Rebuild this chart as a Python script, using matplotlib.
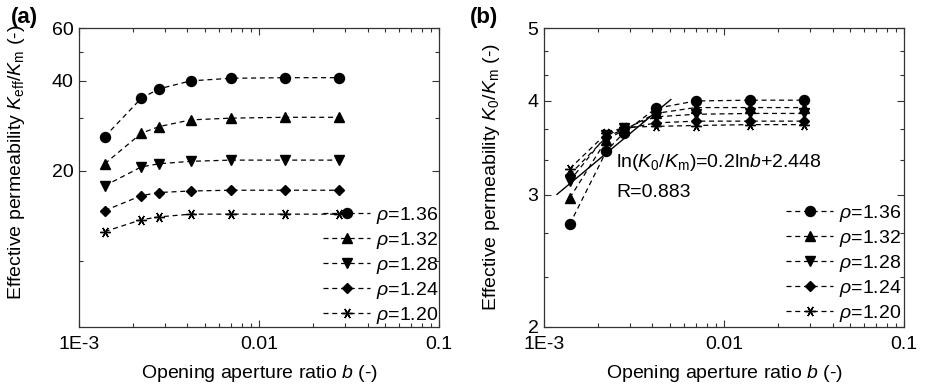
import matplotlib
matplotlib.use("Agg")
import matplotlib.pyplot as plt
import matplotlib.ticker as mticker
import numpy as np

plt.rcParams["font.family"] = ["Liberation Sans", "DejaVu Sans"]
plt.rcParams["mathtext.fontset"] = "custom"
plt.rcParams["mathtext.rm"] = "Liberation Sans"
plt.rcParams["mathtext.it"] = "Liberation Sans:italic"
plt.rcParams["mathtext.bf"] = "Liberation Sans:bold"

# --- data ---
b = [0.00139, 0.00222, 0.00278, 0.00417, 0.00694, 0.0139, 0.0278]
rho_labels = ["1.36", "1.32", "1.28", "1.24", "1.20"]

# (a) K_eff / K_m
keff_136 = [26.0, 35.0, 37.6, 40.0, 40.8, 41.0, 41.0]
keff_132 = [21.1, 26.7, 28.1, 29.6, 30.0, 30.2, 30.2]
keff_128 = [17.8, 20.6, 21.1, 21.5, 21.7, 21.7, 21.7]
keff_124 = [14.7, 16.5, 16.9, 17.1, 17.2, 17.2, 17.2]
keff_120 = [12.5, 13.7, 14.0, 14.3, 14.3, 14.3, 14.3]

# (b) K_0 / K_m
k0_136 = [2.74, 3.43, 3.63, 3.91, 4.00, 4.01, 4.01]
k0_132 = [2.97, 3.55, 3.66, 3.85, 3.92, 3.92, 3.92]
k0_128 = [3.13, 3.60, 3.68, 3.81, 3.84, 3.85, 3.85]
k0_124 = [3.19, 3.58, 3.67, 3.74, 3.76, 3.76, 3.76]
k0_120 = [3.25, 3.62, 3.69, 3.70, 3.71, 3.72, 3.72]

# fitted line ln(K0/Km) = 0.2 ln b + 2.448, drawn over this b range
fit_slope, fit_icpt = 0.2, 2.448
fit_b_range = [0.00118, 0.00506]

markers = ["o", "^", "v", "D", (6, 2, 90)]
msizes = [7.2, 7.6, 7.6, 5.2, 7.5]

FS = 14

fig = plt.figure(figsize=(9.26, 3.87), dpi=100)
ax1 = fig.add_axes([0.0853, 0.1558, 0.389, 0.771])
ax2 = fig.add_axes([0.5875, 0.1558, 0.389, 0.771])


def style_axis(ax):
    ax.set_xscale("log")
    ax.set_yscale("log")
    ax.set_xlim(1e-3, 0.1)
    ax.xaxis.set_major_locator(mticker.FixedLocator([1e-3, 1e-2, 1e-1]))
    ax.xaxis.set_major_formatter(mticker.FixedFormatter(["1E-3", "0.01", "0.1"]))
    ax.xaxis.set_minor_locator(mticker.LogLocator(base=10, subs=np.arange(2, 10)))
    ax.xaxis.set_minor_formatter(mticker.NullFormatter())
    ax.tick_params(which="both", direction="in", top=True, right=True,
                   color="#333333", width=0.8)
    ax.tick_params(which="major", length=5, labelsize=FS)
    ax.tick_params(which="minor", length=3)
    ax.tick_params(axis="x", which="major", pad=7)
    ax.tick_params(axis="y", which="major", pad=4)
    for s in ax.spines.values():
        s.set_color("#333333")
        s.set_linewidth(0.9)
    ax.set_xlabel(r"Opening aperture ratio $b$ (-)", fontsize=FS, labelpad=7)


line_kw = dict(color="black", linestyle=(0, (4, 3)), linewidth=0.9,
               markerfacecolor="black", markeredgecolor="black")

# ---- panel (a) ----
style_axis(ax1)
series_a = [keff_136, keff_132, keff_128, keff_124, keff_120]
for vals, m, ms, lab in zip(series_a, markers, msizes, rho_labels):
    ax1.plot(b, vals, marker=m, markersize=ms, label=r"$\rho$=" + lab, **line_kw)
ax1.set_ylim(6, 60)
ax1.yaxis.set_major_locator(mticker.FixedLocator([20, 40, 60]))
ax1.yaxis.set_major_formatter(mticker.FixedFormatter(["20", "40", "60"]))
ax1.yaxis.set_minor_locator(mticker.FixedLocator([10, 30, 50]))
ax1.yaxis.set_minor_formatter(mticker.NullFormatter())
ax1.set_ylabel(r"Effective permeability $K_{\rm eff}$/$K_{\rm m}$ (-)", fontsize=FS)
ax1.yaxis.set_label_coords(-0.145, 0.55)
ax1.legend(loc="lower right", frameon=False, fontsize=FS, handlelength=2.4,
           handletextpad=0.3, labelspacing=0.2, borderaxespad=0.0, borderpad=0.05,
           numpoints=1)
fig.text(0.012, 0.955, "(a)", fontsize=16, fontweight="bold", va="center")

# ---- panel (b) ----
style_axis(ax2)
series_b = [k0_136, k0_132, k0_128, k0_124, k0_120]
for vals, m, ms, lab in zip(series_b, markers, msizes, rho_labels):
    ax2.plot(b, vals, marker=m, markersize=ms, label=r"$\rho$=" + lab, **line_kw)
fit_b = np.array(fit_b_range)
ax2.plot(fit_b, np.exp(fit_slope * np.log(fit_b) + fit_icpt), color="black",
         linewidth=1.0)
ax2.set_ylim(2, 5)
ax2.yaxis.set_major_locator(mticker.FixedLocator([2, 3, 4, 5]))
ax2.yaxis.set_major_formatter(mticker.FixedFormatter(["2", "3", "4", "5"]))
ax2.yaxis.set_minor_locator(mticker.FixedLocator([2.333, 2.667, 3.333, 3.667, 4.333, 4.667]))
ax2.yaxis.set_minor_formatter(mticker.NullFormatter())
ax2.set_ylabel(r"Effective permeability $K_{\rm 0}$/$K_{\rm m}$ (-)", fontsize=FS)
ax2.yaxis.set_label_coords(-0.117, 0.5)
ax2.legend(loc="lower right", frameon=False, fontsize=FS, handlelength=2.4,
           handletextpad=0.3, labelspacing=0.2, borderaxespad=0.0, borderpad=0.15,
           numpoints=1)
ax2.text(0.2, 0.536, r"ln($K_{\rm 0}$/$K_{\rm m}$)=0.2ln$b$+2.448", transform=ax2.transAxes,
         fontsize=FS, va="baseline")
ax2.text(0.2, 0.436, "R=0.883", transform=ax2.transAxes, fontsize=FS, va="baseline")
fig.text(0.507, 0.955, "(b)", fontsize=16, fontweight="bold", va="center")

fig.savefig("out.png", dpi=100)
